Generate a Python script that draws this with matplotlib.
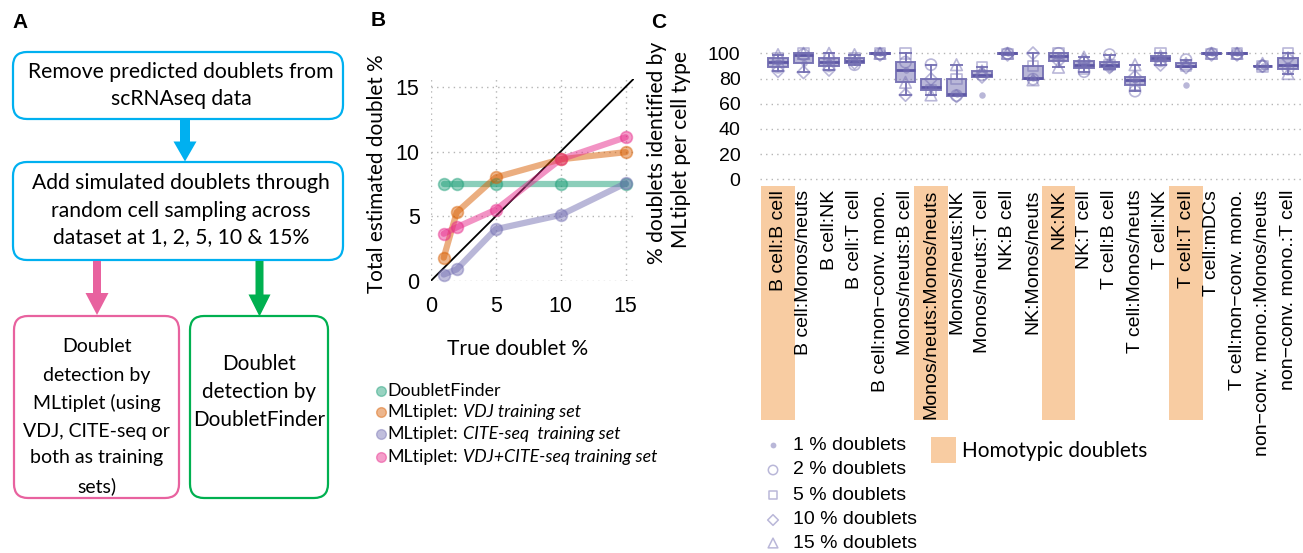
import numpy as np
import matplotlib
matplotlib.use("Agg")
import matplotlib.pyplot as plt
from matplotlib.patches import FancyBboxPatch, Rectangle, Polygon
import matplotlib.transforms as mtransforms

# ---------------- data ----------------
# Panel B
true_doublet_pct = [1, 2, 5, 10, 15]
est_doubletfinder = [7.5, 7.5, 7.5, 7.5, 7.5]
est_mlt_vdj = [1.8, 5.3, 8.0, 9.4, 9.95]
est_mlt_cite = [0.5, 0.9, 4.0, 5.1, 7.55]
est_mlt_vdj_cite = [3.65, 4.15, 5.5, 9.4, 11.1]
b_series = [est_doubletfinder, est_mlt_vdj, est_mlt_cite, est_mlt_vdj_cite]
b_colors = ["#1b9e77", "#d95f02", "#7570b3", "#e7298a"]
b_legend_prefix = ["DoubletFinder", "MLtiplet:", "MLtiplet:", "MLtiplet:"]
b_legend_italic = ["", "VDJ training set", "CITE-seq  training set", "VDJ+CITE-seq training set"]
b_ticks = [0, 5, 10, 15]

# Panel C
pair_types = [
    "B cell:B cell", "B cell:Monos/neuts", "B cell:NK", "B cell:T cell",
    "B cell:non\u2212conv. mono.", "Monos/neuts:B cell", "Monos/neuts:Monos/neuts",
    "Monos/neuts:NK", "Monos/neuts:T cell", "NK:B cell", "NK:Monos/neuts", "NK:NK",
    "NK:T cell", "T cell:B cell", "T cell:Monos/neuts", "T cell:NK", "T cell:T cell",
    "T cell:mDCs", "T cell:non\u2212conv. mono.", "non\u2212conv. mono.:Monos/neuts",
    "non\u2212conv. mono.:T cell"]
homotypic = ["B cell:B cell", "Monos/neuts:Monos/neuts", "NK:NK", "T cell:T cell"]
ident_1pct = [93, 92, 93.5, 94, 100, 87, 73.5, 67.5, 67, 100, 80.5, 98, 91, 87.5, 79, 96, 75, 100, 100, 90, 91]
ident_2pct = [89, 99, 90, 91, 99.5, 93, 91, 66.5, 83, 100, 79.5, 100, 85.5, 99, 70, 94, 95, 100, 99.5, 90, 87.5]
ident_5pct = [96, 100, 96, 96, 100, 100, 71, 79.5, 89, 99.5, 90, 100, 88, 91, 75, 100, 90, 99.5, 100, 89.5, 100]
ident_10pct = [86, 85, 87, 92.5, 99, 67, 79.5, 66, 81.5, 99, 100, 94, 94, 89, 81.5, 91, 89, 99, 99, 90, 96]
ident_15pct = [99, 100, 100, 99, 100, 77, 67, 91, 86, 100, 79, 89, 97, 93, 91, 98, 92, 100, 100, 92, 84]
ident_by_level = [ident_1pct, ident_2pct, ident_5pct, ident_10pct, ident_15pct]
doublet_levels = ["1 % doublets", "2 % doublets", "5 % doublets", "10 % doublets", "15 % doublets"]
c_ticks = [0, 20, 40, 60, 80, 100]
c_ylabel_lines = ["% doublets identified by", "MLtiplet per cell type"]

# ---------------- figure ----------------
W, H, DPI = 1303, 553, 100
fig = plt.figure(figsize=(W / DPI, H / DPI), dpi=DPI)
fig.patch.set_facecolor("white")
renderer = fig.canvas.get_renderer()


def fx(x):
    return x / W


def fy(y):
    return 1 - y / H


def fit(texts, target, dim="width"):
    sizes = []
    for t in texts:
        bb = t.get_window_extent(renderer)
        sizes.append(bb.width if dim == "width" else bb.height)
    s = max(sizes)
    for t in texts:
        t.set_fontsize(t.get_fontsize() * target / s)


ov = fig.add_axes([0, 0, 1, 1], zorder=0)
ov.set_xlim(0, W)
ov.set_ylim(H, 0)
ov.axis("off")
inv = ov.transData.inverted()

FA = "Lato"
FB = "Lato"
FH = "Liberation Sans"

# ---------------- Panel A ----------------
CYAN, PINK, GREEN = "#00b0f0", "#e8629f", "#00b050"


def rbox(x0, y0, x1, y1, color):
    ov.add_patch(FancyBboxPatch((x0, y0), x1 - x0, y1 - y0,
                                boxstyle="round,pad=0,rounding_size=14",
                                fc="white", ec=color, lw=1.6))


def down_arrow(xc, y0, y1, sw, hw, hl, color):
    pts = [(xc - sw / 2, y0), (xc + sw / 2, y0), (xc + sw / 2, y1 - hl),
           (xc + hw / 2, y1 - hl), (xc, y1), (xc - hw / 2, y1 - hl),
           (xc - sw / 2, y1 - hl)]
    ov.add_patch(Polygon(pts, closed=True, fc=color, ec="none"))


def lines(xc, ys, strs, target_w, size=15):
    ts = [ov.text(xc, y, s, ha="center", va="center", fontsize=size,
                  family=FA, color="black") for y, s in zip(ys, strs)]
    fit(ts, target_w)
    return ts


ov.text(20, 22, "A", fontsize=15, fontweight="bold", family=FH, ha="center", va="center")
ov.text(378, 20, "B", fontsize=15, fontweight="bold", family=FH, ha="center", va="center")
ov.text(659, 22, "C", fontsize=15, fontweight="bold", family=FH, ha="center", va="center")

rbox(13, 52, 343, 119, CYAN)
lines(181, [72, 99], ["Remove predicted doublets from", "scRNAseq data"], 305)
down_arrow(185, 120, 161.5, 10, 23, 20, CYAN)
rbox(13, 162, 343, 260, CYAN)
lines(181, [183, 211, 237], ["Add simulated doublets through",
                             "random cell sampling across",
                             "dataset at 1, 2, 5, 10 & 15%"], 299)
down_arrow(97, 261, 315, 8, 23, 22, PINK)
down_arrow(259.5, 261, 316.5, 8, 22, 22, GREEN)
rbox(14, 316, 179, 498, PINK)
lines(96.5, [347, 375, 403, 431, 458, 486],
      ["Doublet", "detection by", "MLtiplet (using", "VDJ, CITE-seq or",
       "both as training", "sets)"], 147)
rbox(190, 316, 328, 498, GREEN)
lines(259, [364, 392, 420], ["Doublet", "detection by", "DoubletFinder"], 132)

# ---------------- Panel B ----------------
axB = fig.add_axes([fx(430.7), fy(281), (633.5 - 430.7) / W, (281 - 79) / H])
axB.set_facecolor("none")
axB.set_xlim(0, 15.6)
axB.set_ylim(0, 15.6)
for sp in axB.spines.values():
    sp.set_visible(False)
axB.set_xticks(b_ticks)
axB.set_yticks(b_ticks)
axB.grid(True, linestyle=(0, (1, 3)), color="#b5b5b5", lw=1)
axB.tick_params(length=0, labelsize=15.5)
axB.tick_params(axis="x", pad=11)
axB.tick_params(axis="y", pad=8)
for lab in axB.get_xticklabels() + axB.get_yticklabels():
    lab.set_family(FH)
axB.axline((0, 0), slope=1, color="black", lw=1.3, zorder=1.8)
for vals, col in zip(b_series, b_colors):
    axB.plot(true_doublet_pct, vals, color=col, alpha=0.5, lw=4.5,
             solid_capstyle="round", zorder=2, clip_on=False)
    axB.plot(true_doublet_pct, vals, ls="none", marker="o", ms=8.5,
             mfc=col, mec=col, alpha=0.45, mew=1.2, zorder=2.5, clip_on=False)

t = fig.text(fx(518), fy(349), "True doublet %", ha="center", va="center",
             family=FB, fontsize=15)
fit([t], 141)
t = fig.text(fx(377), fy(174), "Total estimated doublet %", ha="center",
             va="center", rotation=90, family=FB, fontsize=15)
fit([t], 240, dim="height")

# legend B (mixed upright / italic text), sized so the longest line spans ~270 px
leg_y = [390.7, 412, 434, 457]


def build_b_legend(size):
    arts = []
    right = 0
    for y, pre, ita in zip(leg_y, b_legend_prefix, b_legend_italic):
        t1 = ov.text(387, y, pre, ha="left", va="center", family=FB, fontsize=size)
        arts.append(t1)
        bb = t1.get_window_extent(renderer)
        xe = inv.transform((bb.x1, 0))[0]
        if ita:
            t2 = ov.text(xe + size * 0.45, y, ita, ha="left", va="center",
                         family=FB, fontsize=size, style="italic")
            arts.append(t2)
            xe = inv.transform((t2.get_window_extent(renderer).x1, 0))[0]
        right = max(right, xe)
    return arts, right


arts, right = build_b_legend(13)
for a in arts:
    a.remove()
arts, right = build_b_legend(13 * 270 / (right - 387))
for y, col in zip(leg_y, b_colors):
    ov.plot([380.7], [y], marker="o", ms=7, mfc=col, mec=col, alpha=0.45,
            ls="none")

# ---------------- Panel C ----------------
axC = fig.add_axes([fx(760), fy(184.3), 543 / W, (184.3 - 40) / H])
axC.set_facecolor("none")
axC.set_xlim(-0.706, 20.588)
axC.set_ylim(-3.97, 110.6)
for sp in axC.spines.values():
    sp.set_visible(False)
pos = np.arange(len(pair_types))
data = [[lvl[i] for lvl in ident_by_level] for i in range(len(pair_types))]
box_fc = (117 / 255, 112 / 255, 179 / 255, 0.5)
box_ec = (117 / 255, 112 / 255, 179 / 255, 0.95)
axC.boxplot(data, positions=pos, widths=0.75, patch_artist=True,
            showfliers=False, capwidths=0.42,
            boxprops=dict(facecolor=box_fc, edgecolor=box_ec, lw=1.4),
            whiskerprops=dict(color=box_ec, lw=1.4),
            capprops=dict(color=box_ec, lw=1.4),
            medianprops=dict(color="#5d57a5", lw=2),
            zorder=2)
mk_col = (117 / 255, 112 / 255, 179 / 255, 0.5)
markers = [("o", 22, True), ("o", 65, False), ("s", 55, False),
           ("D", 42, False), ("^", 70, False)]
for lvl, (m, s, filled) in zip(ident_by_level, markers):
    if filled:
        axC.scatter(pos, lvl, marker=m, s=s, color=mk_col, lw=0, zorder=3,
                    clip_on=False)
    else:
        axC.scatter(pos, lvl, marker=m, s=s, facecolors="none",
                    edgecolors=mk_col, lw=1.2, zorder=3, clip_on=False)
axC.set_yticks(c_ticks)
axC.yaxis.grid(True, linestyle=(0, (1, 3)), color="#b5b5b5", lw=1)
axC.set_axisbelow(True)
axC.set_xticks(pos)
axC.set_xticklabels(pair_types, rotation=90, va="top", ha="center")
axC.tick_params(length=0, labelsize=14)
axC.tick_params(axis="y", pad=14)
axC.tick_params(axis="x", pad=4)
for lab in axC.get_xticklabels() + axC.get_yticklabels():
    lab.set_family(FH)
band_tr = mtransforms.blended_transform_factory(axC.transData, fig.transFigure)
BAND = "#f8cca2"
for i, name in enumerate(pair_types):
    if name in homotypic:
        axC.add_patch(Rectangle((i - 0.65, fy(420)), 1.3, (420 - 186) / H,
                                transform=band_tr, fc=BAND, ec="none",
                                clip_on=False, zorder=0.5))

# y label of panel C (two centred lines)
cl = [fig.text(fx(x), fy(y), s, ha="center", va="center", rotation=90,
               family=FB, fontsize=15)
      for x, y, s in zip([657, 681], [153, 150], c_ylabel_lines)]
fit(cl, 223, dim="height")

# legend C
leg_cy = [445, 470, 495, 520, 543]
for y, lab, (m, s, filled) in zip(leg_cy, doublet_levels, markers):
    if filled:
        ov.scatter([773], [y], marker=m, s=s * 0.8, color=mk_col, lw=0)
    else:
        ov.scatter([773], [y], marker=m, s=s * 0.7, facecolors="none",
                   edgecolors=mk_col, lw=1.1)
    ov.text(793, y, lab, ha="left", va="center", family=FH, fontsize=14)
ov.add_patch(Rectangle((931, 437), 25, 26, fc=BAND, ec="none"))
t = ov.text(962, 451, "Homotypic doublets", ha="left", va="center",
            family=FA, fontsize=16)
fit([t], 186)

fig.savefig("out.png", dpi=DPI, facecolor="white")
